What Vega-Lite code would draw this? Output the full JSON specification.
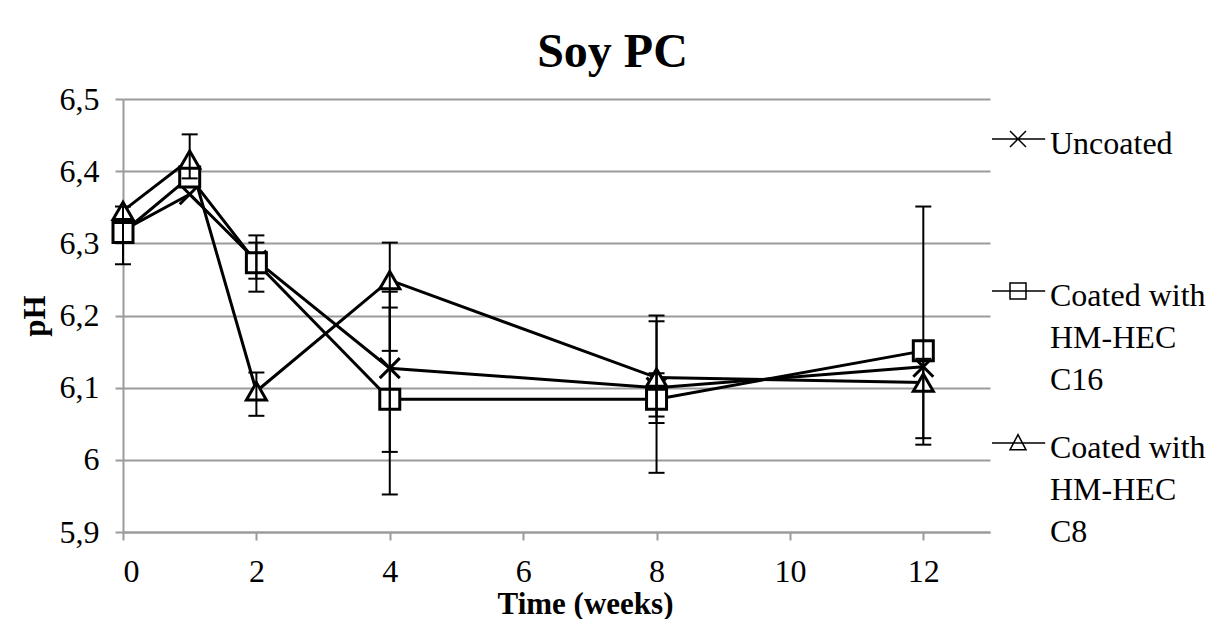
{
  "$schema": "https://vega.github.io/schema/vega-lite/v6.json",
  "width": 867,
  "height": 433,
  "padding": {"left": 19, "top": 29, "right": 0, "bottom": 0},
  "background": "white",
  "title": {"text": "Soy PC", "fontSize": 48, "fontWeight": "bold", "font": "Times New Roman, Liberation Serif, DejaVu Serif, serif", "color": "black", "frame": "bounds", "anchor": "middle", "baseline": "alphabetic", "offset": -32},
  "config": {
    "font": "Times New Roman, Liberation Serif, DejaVu Serif, serif",
    "view": {"stroke": null},
    "style": {"guide-label": {"lineBreak": "|", "lineHeight": 42}},
    "axis": {"labelFont": "Times New Roman, Liberation Serif, DejaVu Serif, serif", "titleFont": "Times New Roman, Liberation Serif, DejaVu Serif, serif", "labelColor": "black", "titleColor": "black", "labelFontSize": 32, "titleFontSize": 31, "titleFontWeight": "bold", "domainColor": "#9b9b9b", "domainWidth": 2, "tickColor": "#9b9b9b", "tickWidth": 2, "tickSize": 8, "gridColor": "#9b9b9b", "gridWidth": 2},
    "axisY": {"grid": true, "labelPadding": 16, "titlePadding": 8},
    "axisX": {"grid": false, "labelPadding": 16, "titlePadding": 2, "titleX": 462}
  },
  "datasets": {
    "pts": [
      {"week": 0, "series": "Uncoated", "ph": 6.318},
      {"week": 1, "series": "Uncoated", "ph": 6.368},
      {"week": 2, "series": "Uncoated", "ph": 6.276},
      {"week": 4, "series": "Uncoated", "ph": 6.127},
      {"week": 8, "series": "Uncoated", "ph": 6.1},
      {"week": 12, "series": "Uncoated", "ph": 6.129},
      {"week": 0, "series": "Coated with HM-HEC C16", "ph": 6.315},
      {"week": 1, "series": "Coated with HM-HEC C16", "ph": 6.392},
      {"week": 2, "series": "Coated with HM-HEC C16", "ph": 6.273},
      {"week": 4, "series": "Coated with HM-HEC C16", "ph": 6.084},
      {"week": 8, "series": "Coated with HM-HEC C16", "ph": 6.084},
      {"week": 12, "series": "Coated with HM-HEC C16", "ph": 6.151},
      {"week": 0, "series": "Coated with HM-HEC C8", "ph": 6.345},
      {"week": 1, "series": "Coated with HM-HEC C8", "ph": 6.416},
      {"week": 2, "series": "Coated with HM-HEC C8", "ph": 6.095},
      {"week": 4, "series": "Coated with HM-HEC C8", "ph": 6.249},
      {"week": 8, "series": "Coated with HM-HEC C8", "ph": 6.114},
      {"week": 12, "series": "Coated with HM-HEC C8", "ph": 6.107}
    ],
    "errs": [
      {"week": 0, "series": "Uncoated", "lo": 6.271, "hi": 6.351},
      {"week": 1, "series": "Coated with HM-HEC C8", "lo": 6.39, "hi": 6.451},
      {"week": 2, "series": "Coated with HM-HEC C16", "lo": 6.233, "hi": 6.311},
      {"week": 2, "series": "Uncoated", "lo": 6.251, "hi": 6.301},
      {"week": 2, "series": "Coated with HM-HEC C8", "lo": 6.061, "hi": 6.121},
      {"week": 4, "series": "Coated with HM-HEC C8", "lo": 6.151, "hi": 6.301},
      {"week": 4, "series": "Uncoated", "lo": 6.011, "hi": 6.233},
      {"week": 4, "series": "Coated with HM-HEC C16", "lo": 5.952, "hi": 6.211},
      {"week": 8, "series": "Coated with HM-HEC C8", "lo": 6.051, "hi": 6.2},
      {"week": 8, "series": "Uncoated", "lo": 6.06, "hi": 6.12},
      {"week": 8, "series": "Coated with HM-HEC C16", "lo": 5.982, "hi": 6.192},
      {"week": 12, "series": "Coated with HM-HEC C16", "lo": 6.021, "hi": 6.351},
      {"week": 12, "series": "Uncoated", "lo": 6.03, "hi": 6.14}
    ]
  },
  "layer": [
    {
      "data": {"name": "pts"},
      "mark": {"type": "line", "color": "black", "strokeWidth": 3},
      "encoding": {
        "x": {"field": "week", "type": "quantitative", "title": "Time (weeks)", "scale": {"domain": [0, 13], "nice": false, "zero": false}, "axis": {"values": [0, 2, 4, 6, 8, 10, 12], "format": "d"}},
        "y": {"field": "ph", "type": "quantitative", "title": "pH", "scale": {"domain": [5.9, 6.5], "nice": false, "zero": false}, "axis": {"values": [5.9, 6, 6.1, 6.2, 6.3, 6.4, 6.5], "labelExpr": "abs(datum.value - 6) < 0.001 ? '6' : replace(format(datum.value, '.1f'), '.', ',')"}},
        "detail": {"field": "series"}
      }
    },
    {
      "data": {"name": "pts"},
      "mark": {"type": "point", "filled": false, "fill": "white", "stroke": "black", "strokeWidth": 3, "size": 400, "opacity": 1},
      "encoding": {
        "x": {"field": "week", "type": "quantitative", "title": "Time (weeks)", "scale": {"domain": [0, 13], "nice": false, "zero": false}},
        "y": {"field": "ph", "type": "quantitative", "title": "pH", "scale": {"domain": [5.9, 6.5], "nice": false, "zero": false}},
        "shape": {
          "field": "series", "type": "nominal",
          "scale": {"domain": ["Uncoated", "Coated with HM-HEC C16", "Coated with HM-HEC C8"], "range": ["M-1,-1L1,1M-1,1L1,-1", "square", "triangle-up"]},
          "legend": null
        }
      }
    },
    {
      "data": {"name": "errs"},
      "mark": {"type": "rule", "color": "black", "strokeWidth": 2},
      "encoding": {
        "x": {"field": "week", "type": "quantitative", "title": "Time (weeks)", "scale": {"domain": [0, 13], "nice": false, "zero": false}},
        "y": {"field": "lo", "type": "quantitative", "title": "pH", "scale": {"domain": [5.9, 6.5], "nice": false, "zero": false}},
        "y2": {"field": "hi"}
      }
    },
    {
      "data": {"name": "errs"},
      "mark": {"type": "tick", "orient": "horizontal", "color": "black", "size": 16, "thickness": 2, "opacity": 1},
      "encoding": {
        "x": {"field": "week", "type": "quantitative", "title": "Time (weeks)", "scale": {"domain": [0, 13], "nice": false, "zero": false}},
        "y": {"field": "lo", "type": "quantitative", "title": "pH", "scale": {"domain": [5.9, 6.5], "nice": false, "zero": false}}
      }
    },
    {
      "data": {"name": "errs"},
      "mark": {"type": "tick", "orient": "horizontal", "color": "black", "size": 16, "thickness": 2, "opacity": 1},
      "encoding": {
        "x": {"field": "week", "type": "quantitative", "title": "Time (weeks)", "scale": {"domain": [0, 13], "nice": false, "zero": false}},
        "y": {"field": "hi", "type": "quantitative", "title": "pH", "scale": {"domain": [5.9, 6.5], "nice": false, "zero": false}}
      }
    },
    {
      "data": {"name": "pts"},
      "transform": [{"filter": "false"}],
      "mark": {"type": "point", "filled": false, "fill": "white", "stroke": "black", "strokeWidth": 3, "size": 256, "opacity": 1},
      "encoding": {
        "x": {"field": "week", "type": "quantitative", "title": "Time (weeks)", "scale": {"domain": [0, 13], "nice": false, "zero": false}},
        "y": {"field": "ph", "type": "quantitative", "title": "pH", "scale": {"domain": [5.9, 6.5], "nice": false, "zero": false}},
        "shape": {
          "field": "series", "type": "nominal",
          "scale": {"domain": ["Uncoated", "Coated with HM-HEC C16", "Coated with HM-HEC C8"], "range": ["M-2.25,1.25L4.4,1.25M0,0.25L2,2.25M0,2.25L2,0.25", "M-2.25,1.25L4.4,1.25M0,0.25L2,0.25L2,2.25L0,2.25Z", "M-2.25,1.25L4.4,1.25M1,0.2L2,2.1L0,2.1Z"]},
          "legend": {
            "title": null, "orient": "none", "legendX": 871, "legendY": 14, "padding": 0,
            "labelFont": "Times New Roman, Liberation Serif, DejaVu Serif, serif", "labelFontSize": 32, "labelColor": "black", "labelOffset": 24, "labelLimit": 400, "labelBaseline": "top",
            "rowPadding": 21, "symbolSize": 256,
            "labelExpr": "datum.label == 'Uncoated' ? 'Uncoated| | ' : 'Coated with|HM-HEC|' + slice(datum.label, 19)"
          }
        }
      }
    }
  ],
  "resolve": {"scale": {"shape": "independent"}}
}
